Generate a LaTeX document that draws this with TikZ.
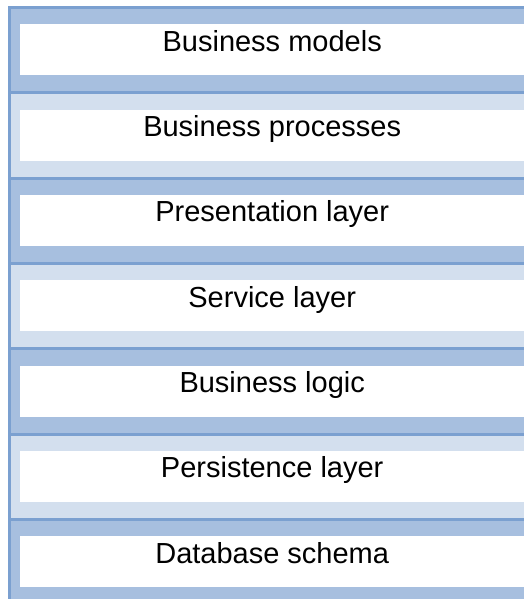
\documentclass[tikz,border=0pt]{standalone}
\usepackage{fontspec}
\setmainfont{Liberation Sans}
\definecolor{bandDark}{HTML}{A7BFDF}
\definecolor{bandLight}{HTML}{D3DFEE}
\definecolor{bandLine}{HTML}{7BA0D0}
\begin{document}
\begin{tikzpicture}[x=1pt,y=-1pt,
  layerbox/.style={fill=white,draw=none,inner sep=0pt,minimum width=504pt,
    text height=27pt,text depth=24pt,
    font=\fontsize{29}{34}\selectfont,text=black,anchor=north west}]
\useasboundingbox (0,0) rectangle (524,599);
\fill[white] (0,0) rectangle (524,599);
% bands
\foreach \i/\c in {0/bandDark,1/bandLight,2/bandDark,3/bandLight,4/bandDark,5/bandLight,6/bandDark}{
  \fill[\c] (11,{6+85.33*\i}) rectangle (524,{6+85.33*(\i+1)});
  \fill[bandLine] (8,{6+85.33*\i}) rectangle (524,{9+85.33*\i});
}
\fill[bandLine] (8,6) rectangle (11,599);
% layer boxes
\foreach \i/\t in {0/Business models,1/Business processes,2/Presentation layer,3/Service layer,4/Business logic,5/Persistence layer,6/Database schema}{
  \node[layerbox] (r\i) at (20,{24+85.33*\i}) {\t};
}
\end{tikzpicture}
\end{document}
